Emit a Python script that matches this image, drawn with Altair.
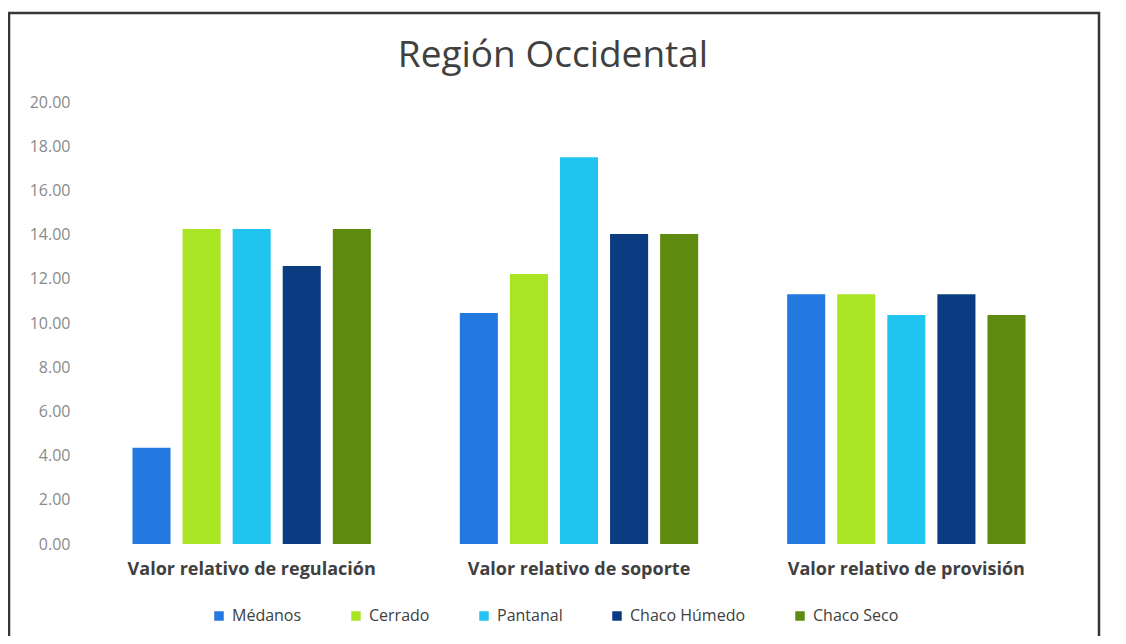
import altair as alt
import pandas as pd

categories = ["Valor relativo de regulación", "Valor relativo de soporte", "Valor relativo de provisión"]
series = ["Médanos", "Cerrado", "Pantanal", "Chaco Húmedo", "Chaco Seco"]
colors = ["#2479E0", "#A9E525", "#21C4EE", "#0B3C82", "#5E8A10"]
chart_title = "Región Occidental"

medanos = [4.35, 10.45, 11.30]
cerrado = [14.25, 12.22, 11.30]
pantanal = [14.25, 17.50, 10.36]
chaco_humedo = [12.58, 14.03, 11.30]
chaco_seco = [14.25, 14.03, 10.36]

y_ticks = [0, 2, 4, 6, 8, 10, 12, 14, 16, 18, 20]

rows = []
for name, vals in zip(series, [medanos, cerrado, pantanal, chaco_humedo, chaco_seco]):
    for cat, v in zip(categories, vals):
        rows.append({"categoria": cat, "serie": name, "valor": v})
df = pd.DataFrame(rows)

bars = alt.Chart(df).mark_bar().encode(
    x=alt.X(
        "categoria:N",
        sort=categories,
        scale=alt.Scale(paddingInner=0.235, paddingOuter=0.1175),
        axis=alt.Axis(
            title=None, labelAngle=0, domain=False, ticks=False, labelLimit=500,
            labelFont="Open Sans", labelFontWeight="bold", labelFontSize=18,
            labelColor="#404040", labelPadding=16,
        ),
    ),
    xOffset=alt.XOffset(
        "serie:N", sort=series,
        scale=alt.Scale(paddingInner=0.24, paddingOuter=0.12),
    ),
    y=alt.Y(
        "valor:Q",
        scale=alt.Scale(domain=[0, 20], nice=False),
        axis=alt.Axis(
            title=None, values=y_ticks, format=".2f", domain=False, ticks=False,
            grid=False, labelFont="Open Sans", labelFontSize=16,
            labelColor="#8a8a8a", labelPadding=18,
        ),
    ),
    color=alt.Color(
        "serie:N",
        sort=series,
        scale=alt.Scale(domain=series, range=colors),
        legend=alt.Legend(
            title=None, orient="none", direction="horizontal",
            legendX=123, legendY=506, symbolType="square", symbolSize=90,
            symbolStrokeWidth=0, labelFont="Open Sans", labelFontSize=16,
            labelColor="#404040", columnPadding=46, labelOffset=5,
        ),
    ),
)

title_layer = alt.Chart(alt.Data(values=[{"t": chart_title}])).mark_text(
    font="Open Sans", fontSize=37, color="#404040", align="center", baseline="alphabetic"
).encode(
    text="t:N", x=alt.value(465), y=alt.value(-35)
)

frame = alt.Chart(alt.Data(values=[{"a": 1}])).mark_rect(
    filled=False, stroke="#363636", strokeWidth=2.5
).encode(
    x=alt.value(-79), x2=alt.value(1011), y=alt.value(-89), y2=alt.value(560)
)

chart = alt.layer(bars, title_layer, frame).properties(
    width=982,
    height=442,
    background="white",
    autosize=alt.AutoSizeParams(type="none"),
    padding={"left": 80, "top": 94, "right": 48, "bottom": 92},
).configure_view(stroke="transparent", strokeWidth=0)

chart.save("out.html", embed_options={"renderer": "svg", "actions": False})
